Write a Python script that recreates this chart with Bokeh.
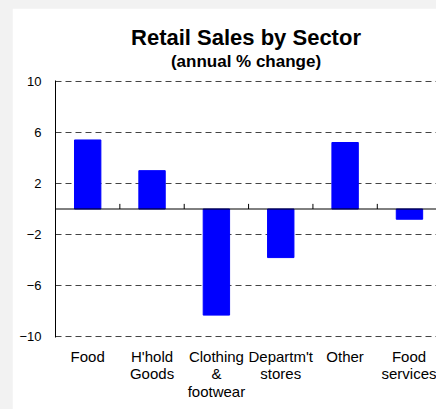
from bokeh.plotting import figure
from bokeh.models import Range1d, FixedTicker, Span, Title
from bokeh.layouts import column
from bokeh.embed import file_html
from bokeh.resources import INLINE

categories = ["Food", "H'hold\nGoods", "Clothing\n&\nfootwear", "Departm't\nstores", "Other", "Food\nservices"]
values = [5.4, 3.0, -8.3, -3.8, 5.2, -0.8]
y_ticks = [-10, -6, -2, 2, 6, 10]

xs = list(range(len(categories)))
FONT = "Liberation Sans"

p = figure(width=424, height=401, output_backend="svg", toolbar_location=None,
           x_range=Range1d(-0.5, 5.42), y_range=Range1d(-10.05, 10.05),
           min_border_left=43, min_border_right=0, min_border_top=72, min_border_bottom=72,
           background_fill_color="white", border_fill_color="white",
           margin=(8, 0, 0, 12))
p.outline_line_color = None

p.vbar(x=xs, top=values, bottom=0, width=0.41, fill_color="#0000ff", line_color="#0000ff")

p.add_layout(Span(location=0, dimension="width", line_color="black", line_width=1))
boundaries = [i + 0.5 for i in xs]
p.segment(x0=boundaries, x1=boundaries, y0=[0] * len(boundaries), y1=[0.4] * len(boundaries),
          line_color="black", line_width=1)

p.xgrid.visible = False
p.ygrid.ticker = FixedTicker(ticks=y_ticks)
p.ygrid.grid_line_color = "#444444"
p.ygrid.grid_line_dash = "6 4"
p.ygrid.grid_line_width = 1

p.yaxis.ticker = FixedTicker(ticks=y_ticks)
p.yaxis.axis_line_color = "black"
p.yaxis.major_tick_line_color = None
p.yaxis.minor_tick_line_color = None
p.yaxis.major_label_text_font = FONT
p.yaxis.major_label_text_font_size = "13px"
p.yaxis.major_label_text_color = "black"
p.yaxis.major_label_standoff = 8

p.xaxis.ticker = FixedTicker(ticks=xs)
p.xaxis.major_label_overrides = {x: c for x, c in zip(xs, categories)}
p.xaxis.axis_line_color = None
p.xaxis.major_tick_line_color = None
p.xaxis.minor_tick_line_color = None
p.xaxis.major_tick_out = 0
p.xaxis.major_tick_in = 0
p.xaxis.major_label_text_font = FONT
p.xaxis.major_label_text_font_size = "15px"
p.xaxis.major_label_text_color = "black"
p.xaxis.major_label_text_line_height = 1.05
p.xaxis.major_label_standoff = 10

# spacer between frame and subtitle
p.add_layout(Title(text=" ", text_font_size="1px", standoff=7), "above")
p.add_layout(Title(text="(annual % change)", align="center", text_font=FONT, standoff=0,
                   text_font_size="17px", text_font_style="bold", text_color="black"), "above")
p.add_layout(Title(text="Retail Sales by Sector", align="center", text_font=FONT, standoff=0,
                   text_font_size="22px", text_font_style="bold", text_color="black"), "above")

layout = column(p, styles={"background-color": "#f2f2f2"})

open("out.html", "w").write(file_html(layout, INLINE))
